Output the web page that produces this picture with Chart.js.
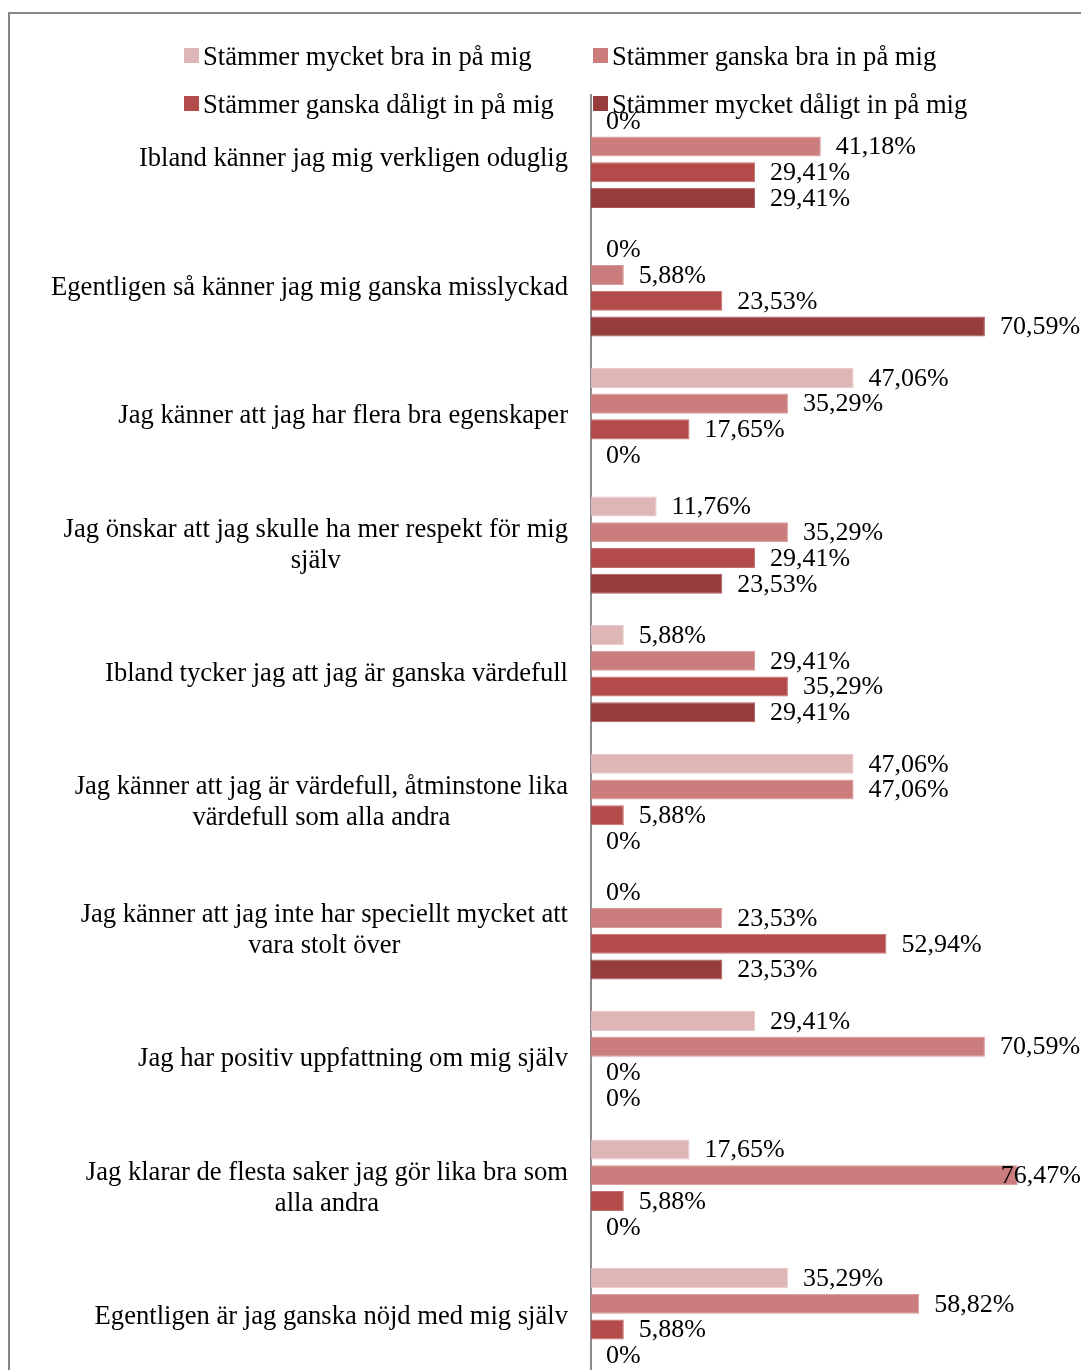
<!DOCTYPE html>
<html lang="sv">
<head>
<meta charset="utf-8">
<title>Självkänsla</title>
<script src="https://cdn.jsdelivr.net/npm/chart.js@4.4.1/dist/chart.umd.min.js"></script>
<style>
  html, body { margin: 0; padding: 0; background: #fff; overflow: hidden; }
  body { width: 1081px; height: 1370px; position: relative; }
  .frame {
    position: absolute; left: 8px; top: 12px; width: 1200px; height: 1450px;
    border-top: 2px solid #868686; border-left: 2px solid #868686;
  }
  .wrap { position: absolute; left: 0; top: 0; width: 1200px; height: 1400px; }
  .legend {
    position: absolute; left: 0; top: 0; width: 1081px; height: 130px;
    font-family: "Liberation Serif", "Times New Roman", serif; font-size: 26.6px; color: #000;
  }
  .legend .item { position: absolute; white-space: nowrap; line-height: 30px; }
  .legend .sw { position: absolute; left: 0; top: 7px; width: 15px; height: 15px; }
  .legend .txt { margin-left: 19px; }
</style>
</head>
<body>
<div class="frame"></div>
<div class="wrap"><canvas id="bars"></canvas></div>
<div class="legend" id="legend"></div>
<script>
(function () {
  'use strict';

  // ── Data ──
  const categories = [
    ['Ibland känner jag mig verkligen oduglig'],
    ['Egentligen så känner jag mig ganska misslyckad'],
    ['Jag känner att jag har flera bra egenskaper'],
    ['Jag önskar att jag skulle ha mer respekt för mig', 'själv'],
    ['Ibland tycker jag att jag är ganska värdefull'],
    ['Jag känner att jag är värdefull, åtminstone lika', 'värdefull som alla andra'],
    ['Jag känner att jag inte har speciellt mycket att', 'vara stolt över'],
    ['Jag har positiv uppfattning om mig själv'],
    ['Jag klarar de flesta saker jag gör lika bra som', 'alla andra'],
    ['Egentligen är jag ganska nöjd med mig själv']
  ];

  const seriesNames = [
    'Stämmer mycket bra in på mig',
    'Stämmer ganska bra in på mig',
    'Stämmer ganska dåligt in på mig',
    'Stämmer mycket dåligt in på mig'
  ];

  const mycketBra   = [0, 0, 47.06, 11.76, 5.88, 47.06, 0, 29.41, 17.65, 35.29];
  const ganskaBra   = [41.18, 5.88, 35.29, 35.29, 29.41, 47.06, 23.53, 70.59, 76.47, 58.82];
  const ganskaDalig = [29.41, 23.53, 17.65, 29.41, 35.29, 5.88, 52.94, 0, 5.88, 5.88];
  const mycketDalig = [29.41, 70.59, 0, 23.53, 29.41, 0, 23.53, 0, 0, 0];

  const COLORS = ['#DFB6B6', '#CB7C7C', '#B34B4A', '#963C3C'];
  const EDGES  = ['#E8C9C9', '#D79898', '#C46F6E', '#A75958'];

  const FONT = '"Liberation Serif", "Times New Roman", serif';
  const VALUE_SIZE = 26;
  const LABEL_SIZE = 26.6;
  const AXIS_X = 591;
  const PAGE_W = 1081;

  // ── Legend (two columns, two rows) ──
  const legendPos = [[184, 41], [593, 41], [184, 89], [593, 89]];
  const legendEl = document.getElementById('legend');
  seriesNames.forEach((name, i) => {
    const item = document.createElement('div');
    item.className = 'item';
    item.style.left = legendPos[i][0] + 'px';
    item.style.top = legendPos[i][1] + 'px';
    item.innerHTML = '<span class="sw" style="background:' + COLORS[i] + '"></span><span class="txt"></span>';
    item.querySelector('.txt').textContent = name;
    legendEl.appendChild(item);
  });

  function fmt(v) {
    return v === 0 ? '0%' : v.toFixed(2).replace('.', ',') + '%';
  }

  // ── Category labels: block right-aligned, lines centred within it ──
  const categoryLabels = {
    id: 'categoryLabels',
    afterDraw(chart) {
      const c = chart.ctx;
      const y = chart.scales.y;
      const right = chart.chartArea.left - 23;
      const lineH = 31;
      c.save();
      c.font = LABEL_SIZE + 'px ' + FONT;
      c.fillStyle = '#000';
      c.textAlign = 'center';
      c.textBaseline = 'middle';
      categories.forEach((lines, j) => {
        const yc = y.getPixelForValue(j);
        const maxW = Math.max(...lines.map(l => c.measureText(l).width));
        const cx = right - maxW / 2;
        lines.forEach((l, k) => {
          c.fillText(l, cx, yc + (k - (lines.length - 1) / 2) * lineH);
        });
      });
      c.restore();
    }
  };

  // ── Value labels next to each bar ──
  const valueLabels = {
    id: 'valueLabels',
    afterDatasetsDraw(chart) {
      const c = chart.ctx;
      c.save();
      c.font = VALUE_SIZE + 'px ' + FONT;
      c.fillStyle = '#000';
      c.textAlign = 'left';
      c.textBaseline = 'middle';
      chart.data.datasets.forEach((ds, i) => {
        chart.getDatasetMeta(i).data.forEach((bar, j) => {
          const text = fmt(ds.data[j]);
          const w = c.measureText(text).width;
          const x = Math.min(bar.x + 15, PAGE_W - w);
          c.fillText(text, x, bar.y + 1);
        });
      });
      c.restore();
    }
  };

  const series = [mycketBra, ganskaBra, ganskaDalig, mycketDalig];

  new Chart(document.getElementById('bars'), {
    type: 'bar',
    data: {
      labels: categories.map(l => l.join(' ')),
      datasets: series.map((data, i) => ({
        label: seriesNames[i],
        data,
        backgroundColor: COLORS[i],
        borderColor: EDGES[i],
        borderWidth: 1,
        borderSkipped: 'left',
        categoryPercentage: 0.8,
        barPercentage: 0.78
      }))
    },
    options: {
      indexAxis: 'y',
      responsive: true,
      maintainAspectRatio: false,
      animation: false,
      layout: { padding: { top: 95, bottom: 19, right: 51, left: 0 } },
      scales: {
        x: { display: false, min: 0, max: 100 },
        y: {
          grid: { display: false, drawTicks: false },
          ticks: { display: false },
          border: { display: true, color: '#8C8C8C', width: 2 },
          afterFit(scale) { scale.width = AXIS_X; }
        }
      },
      plugins: {
        legend: { display: false },
        tooltip: { enabled: false }
      }
    },
    plugins: [valueLabels, categoryLabels]
  });
})();
</script>
</body>
</html>
